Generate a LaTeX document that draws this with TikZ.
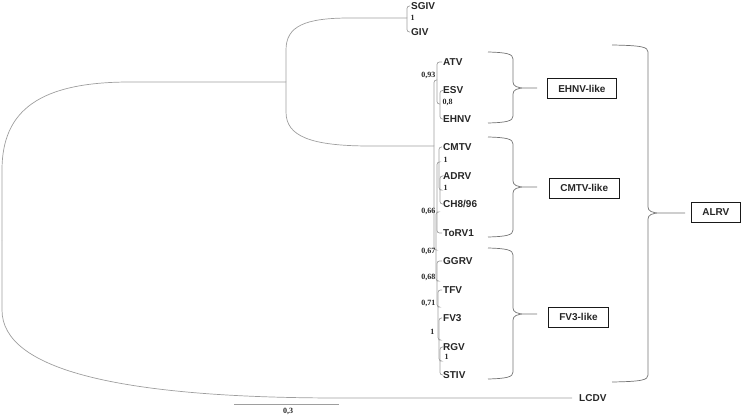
\documentclass[tikz,border=0pt]{standalone}
\usepackage{fontspec}
\setmainfont{Liberation Sans}
\newfontfamily\suppfont{Liberation Serif}
\usetikzlibrary{positioning}
% curly bracket: x0, x of the bar, x of the tip, top y, bottom y, tip y
\newcommand{\groupbrace}[6]{%
  \draw[bracket] (#1,#4) .. controls ({#2-6},{#4+0.5}) and (#2,{#4+2}) .. (#2,{#4+7})
    -- (#2,{#6-6}) .. controls (#2,{#6-2}) and ({#2+4},#6) .. ({#2+12},#6) -- (#3,#6)
    -- ({#2+12},#6) .. controls ({#2+4},#6) and (#2,{#6+2}) .. (#2,{#6+6})
    -- (#2,{#5-7}) .. controls (#2,{#5-2}) and ({#2-6},{#5-0.5}) .. (#1,#5);}
\begin{document}
\begin{tikzpicture}[x=1pt, y=-1pt,
  every node/.style={font=\bfseries\fontsize{10}{12}\selectfont, text=black!85},
  taxon/.style={anchor=west, inner sep=1pt},
  supp/.style={font=\suppfont\bfseries\fontsize{8}{9}\selectfont, inner sep=0.5pt},
  limb/.style={draw=black!38, line width=0.7pt},
  twig/.style={limb, rounded corners=2.5pt},
  bracket/.style={draw=black!55, line width=0.7pt},
  groupbox/.style={draw=black!90, line width=0.6pt, inner xsep=11pt, inner ysep=0pt, minimum height=20pt, anchor=west}]
  \useasboundingbox (0,0) rectangle (745,417);

  % internal nodes
  \coordinate (root) at (2,240);
  \coordinate (nA) at (286,82);
  \coordinate (nSG) at (407,18);
  \coordinate (nIn) at (434,146);
  \coordinate (nEH) at (437,80);
  \coordinate (nES) at (440,104);
  \coordinate (nCF) at (436,250);
  \coordinate (nCM) at (437,212);
  \coordinate (nCM1) at (439,162);
  \coordinate (nAD) at (440,190);
  \coordinate (nGG) at (437,281);
  \coordinate (nTF) at (438,307);
  \coordinate (nF3) at (439,340);
  \coordinate (nRG) at (440,361);

  % taxa
  \node[taxon] (SGIV) at (410,6) {SGIV};
  \node[taxon] (GIV) at (410,32) {GIV};
  \node[taxon] (ATV) at (442,62) {ATV};
  \node[taxon] (ESV) at (442,90.5) {ESV};
  \node[taxon] (EHNV) at (442,119) {EHNV};
  \node[taxon] (CMTV) at (442,147) {CMTV};
  \node[taxon] (ADRV) at (442,176) {ADRV};
  \node[taxon] (CH) at (442,204) {CH8/96};
  \node[taxon] (ToRV1) at (442,233) {ToRV1};
  \node[taxon] (GGRV) at (442,261) {GGRV};
  \node[taxon] (TFV) at (442,290) {TFV};
  \node[taxon] (FV3) at (442,318) {FV3};
  \node[taxon] (RGV) at (442,347) {RGV};
  \node[taxon] (STIV) at (442,375) {STIV};
  \node[taxon, inner xsep=7pt] (LCDV) at (572,398) {LCDV};

  % long curved branches
  \draw[limb] (root) -- (2,170) .. controls (2,110) and (40,82) .. (130,82) -- (nA);
  \draw[limb] (root) -- (2,310) .. controls (2,370) and (120,398) .. (340,398) -- (LCDV.west);
  \draw[limb] (nA) -- (286,50) .. controls (286,26) and (305,18) .. (350,18) -- (nSG);
  \draw[limb] (nA) -- (286,112) .. controls (286,136) and (310,146) .. (370,146) -- (nIn);

  % short branches
  \foreach \p/\c in {nSG/SGIV.west, nSG/GIV.west, nIn/nEH, nIn/nCF,
      nEH/ATV.west, nEH/nES, nES/ESV.west, nES/EHNV.west,
      nCF/nCM, nCF/nGG, nCM/nCM1, nCM/ToRV1.west, nCM1/CMTV.west, nCM1/nAD,
      nAD/ADRV.west, nAD/CH.west, nGG/GGRV.west, nGG/nTF, nTF/TFV.west, nTF/nF3,
      nF3/FV3.west, nF3/nRG, nRG/RGV.west, nRG/STIV.west}
    \draw[twig] (\p) |- (\c);

  % support values
  \node[supp, anchor=west] (sSG) at (410,18) {1};
  \node[supp, anchor=east] (sEH) at (436,75) {0,93};
  \node[supp, anchor=west] (sES) at (442,102) {0,8};
  \node[supp, anchor=west] (sCM1) at (443,160) {1};
  \node[supp, anchor=west] (sAD) at (443,188) {1};
  \node[supp, anchor=east] (sCM) at (436,211) {0,66};
  \node[supp, anchor=east] (sCF) at (436,251) {0,67};
  \node[supp, anchor=east] (sGG) at (436,277) {0,68};
  \node[supp, anchor=east] (sTF) at (436,303) {0,71};
  \node[supp, anchor=east] (sF3) at (435,332) {1};
  \node[supp, anchor=west] (sRG) at (444,357) {1};

  % groups
  \groupbrace{488}{513}{537}{52}{123}{88}
  \groupbrace{488}{513}{537}{137}{237}{187}
  \groupbrace{488}{513}{537}{248}{379}{314}
  \groupbrace{612}{648}{685}{45}{382}{213}
  \node[groupbox] (ehnvlike) at (547,88.5) {EHNV-like};
  \node[groupbox] (cmtvlike) at (549,188) {CMTV-like};
  \node[groupbox] (fv3like) at (548,317) {FV3-like};
  \node[groupbox] (alrv) at (691,212) {ALRV};

  % scale bar
  \coordinate (bar0) at (234,404);
  \coordinate (bar1) at (339,404);
  \draw[limb] (bar0) -- (bar1);
  \node[supp] (barlab) at (288,411.5) {0,3};
\end{tikzpicture}
\end{document}
